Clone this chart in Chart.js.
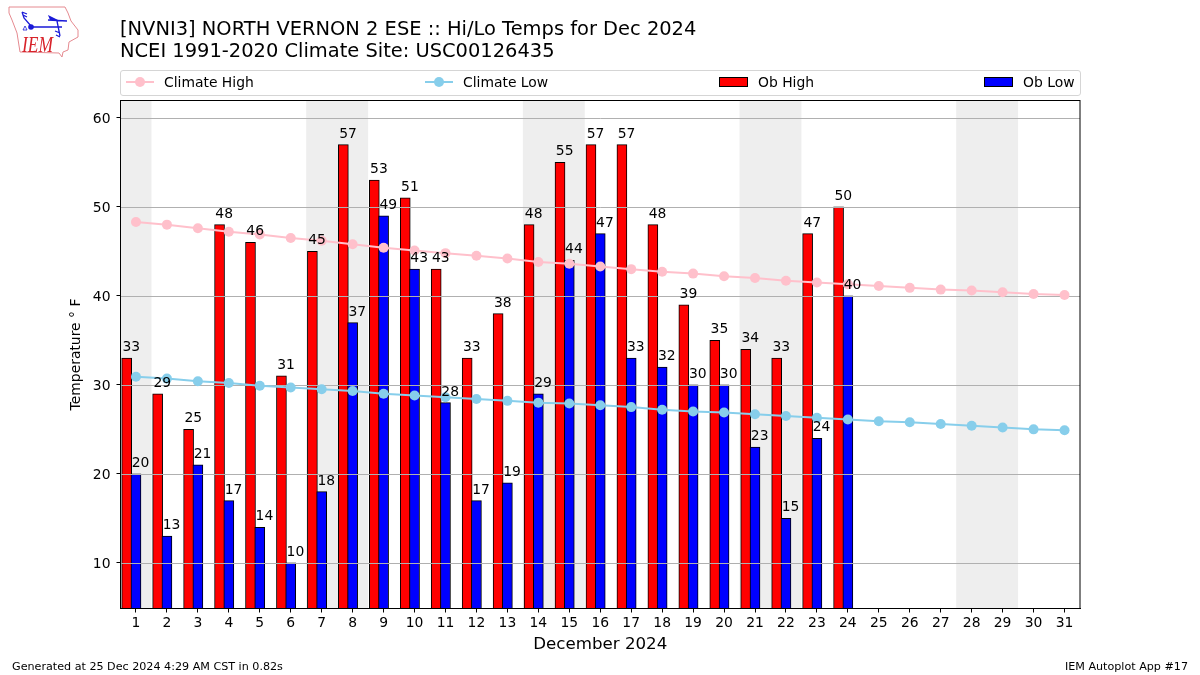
<!DOCTYPE html>
<html>
<head>
<meta charset="utf-8">
<title>Hi/Lo Temps</title>
<script src="https://cdn.jsdelivr.net/npm/chart.js@4"></script>
<style>
  html, body { margin: 0; padding: 0; background: #fff; }
  body { width: 1200px; height: 675px; position: relative; overflow: hidden; font-family: "DejaVu Sans", sans-serif; color: #000; }
  canvas { position: absolute; left: 0; top: 0; }
  .title { position: absolute; left: 120px; top: 18px; font-size: 19.44px; line-height: 22px; white-space: nowrap; }
  .legend { position: absolute; left: 120px; top: 70px; width: 959px; height: 24px; border: 1px solid #d5d5d5; border-radius: 3px; }
  .legend span { position: absolute; top: 3px; font-size: 13.9px; line-height: 16px; white-space: nowrap; }
  .legend i { position: absolute; display: block; }
  .foot { position: absolute; top: 660px; font-size: 11.15px; line-height: 13px; white-space: nowrap; }
  .logo { position: absolute; left: 0; top: 0; }
</style>
</head>
<body>
<canvas id="chart" width="1200" height="675"></canvas>

<svg class="logo" width="90" height="65" viewBox="0 0 90 65">
  <path d="M9 7 L65 7 L68 13 L71 21 L78 30 L78 37 L69 42 L68 50 L63 52 L62 57 L59 53 L20 52 L17 33 L12 20 L9 13 Z" fill="none" stroke="#e58a90" stroke-width="1"/>
  <path d="M31 27 L62 27 M22 12 L24 18 L31 26 M22 12 L27 14 M23 15 L27 17 M48 20 L67 21 M57 21 L60 36 M55 31 L60 33 M56 35 L60 37" fill="none" stroke="#1a1ad8" stroke-width="1.3"/>
  <circle cx="31" cy="27" r="2.8" fill="#1a1ad8"/>
  <path d="M48 15 L58 20 L50 20 Z" fill="#1a1ad8"/>
  <path d="M23 30 L25 26 L27 30 Z" fill="none" stroke="#1a1ad8" stroke-width="0.8"/>
  <text x="22" y="52" font-family="Liberation Serif" font-style="italic" font-size="23" fill="#d8232a" textLength="31" lengthAdjust="spacingAndGlyphs">IEM</text>
</svg>

<div class="title">[NVNI3] NORTH VERNON 2 ESE :: Hi/Lo Temps for Dec 2024<br>NCEI 1991-2020 Climate Site: USC00126435</div>

<div class="legend">
  <i style="left:5px;top:10px;width:28px;height:2px;background:#ffc0cb"></i>
  <i style="left:14px;top:6px;width:10px;height:10px;border-radius:50%;background:#ffc0cb"></i>
  <span style="left:43px">Climate High</span>
  <i style="left:304px;top:10px;width:28px;height:2px;background:#87ceeb"></i>
  <i style="left:313px;top:6px;width:10px;height:10px;border-radius:50%;background:#87ceeb"></i>
  <span style="left:342px">Climate Low</span>
  <i style="left:598px;top:6px;width:27px;height:8px;background:#f00;border:1px solid #000"></i>
  <span style="left:637px">Ob High</span>
  <i style="left:863px;top:6px;width:27px;height:8px;background:#00f;border:1px solid #000"></i>
  <span style="left:902px">Ob Low</span>
</div>

<div class="foot" style="left:12px">Generated at 25 Dec 2024 4:29 AM CST in 0.82s</div>
<div class="foot" style="right:12px">IEM Autoplot App #17</div>

<script>
const days = [1,2,3,4,5,6,7,8,9,10,11,12,13,14,15,16,17,18,19,20,21,22,23,24,25,26,27,28,29,30,31];
const obHigh = [33,29,25,48,46,31,45,57,53,51,43,33,38,48,55,57,57,48,39,35,34,33,47,50];
const obLow = [20,13,21,17,14,10,18,37,49,43,28,17,19,29,44,47,33,32,30,30,23,15,24,40];
const climateHigh = [48.3,48.0,47.6,47.2,46.9,46.5,46.2,45.8,45.4,45.1,44.8,44.5,44.2,43.8,43.6,43.3,43.0,42.7,42.5,42.2,42.0,41.7,41.5,41.3,41.1,40.9,40.7,40.6,40.4,40.2,40.1];
const climateLow = [30.9,30.7,30.4,30.2,29.9,29.7,29.5,29.3,29.0,28.8,28.6,28.4,28.2,28.0,27.9,27.7,27.5,27.2,27.0,26.9,26.7,26.5,26.3,26.1,25.9,25.8,25.6,25.4,25.2,25.0,24.9];
const weekendBands = [[0.5,1.5],[6.5,8.5],[13.5,15.5],[20.5,22.5],[27.5,29.5]];
const yTicks = [10,20,30,40,50,60];

const FONT = "'DejaVu Sans', sans-serif";
Chart.defaults.font.family = FONT;
Chart.defaults.color = "#000";

// weekend shading at the very back
const bandsPlugin = {
  id: "bands",
  beforeDraw(chart) {
    const { ctx, chartArea, scales } = chart;
    ctx.save();
    ctx.fillStyle = "#eeeeee";
    weekendBands.forEach(([a, b]) => {
      const x0 = scales.x.getPixelForValue(a);
      const x1 = scales.x.getPixelForValue(b);
      ctx.fillRect(x0, chartArea.top, x1 - x0, chartArea.bottom - chartArea.top);
    });
    ctx.restore();
  }
};

// grid runs over the bars but under the lines, so draw it just before the first line
const gridPlugin = {
  id: "midGrid",
  beforeDatasetDraw(chart, args) {
    if (args.index !== 1) return;
    const { ctx, chartArea, scales } = chart;
    ctx.save();
    ctx.strokeStyle = "#b0b0b0";
    ctx.lineWidth = 1;
    yTicks.forEach((v) => {
      const y = Math.floor(scales.y.getPixelForValue(v) + 0.3) + 0.5;
      ctx.beginPath();
      ctx.moveTo(chartArea.left, y);
      ctx.lineTo(chartArea.right, y);
      ctx.stroke();
    });
    ctx.restore();
  }
};

const barLabels = {
  id: "barLabels",
  afterDraw(chart) {
    const { ctx, scales, chartArea } = chart;
    ctx.save();
    ctx.strokeStyle = "#000";
    ctx.lineWidth = 1;
    ctx.strokeRect(chartArea.left, chartArea.top, chartArea.right - chartArea.left, chartArea.bottom - chartArea.top);
    ctx.font = "13.9px " + FONT;
    ctx.fillStyle = "#000";
    ctx.textAlign = "center";
    ctx.textBaseline = "alphabetic";
    obHigh.forEach((v, i) => {
      ctx.fillText(v, scales.x.getPixelForValue(days[i] - 0.15), scales.y.getPixelForValue(v) - 7);
    });
    obLow.forEach((v, i) => {
      ctx.fillText(v, scales.x.getPixelForValue(days[i] + 0.15), scales.y.getPixelForValue(v) - 7);
    });
    ctx.restore();
  }
};

new Chart(document.getElementById("chart"), {
  type: "bar",
  data: {
    datasets: [
      {
        type: "line",
        label: "Climate High",
        data: days.map((d, i) => ({ x: d, y: climateHigh[i] })),
        borderColor: "#ffc0cb",
        backgroundColor: "#ffc0cb",
        borderWidth: 2,
        pointRadius: 5,
        pointBorderWidth: 0,
        order: 1
      },
      {
        type: "line",
        label: "Climate Low",
        data: days.map((d, i) => ({ x: d, y: climateLow[i] })),
        borderColor: "#87ceeb",
        backgroundColor: "#87ceeb",
        borderWidth: 2,
        pointRadius: 5,
        pointBorderWidth: 0,
        order: 1
      },
      {
        label: "Ob High",
        data: obHigh.map((v, i) => ({ x: days[i] - 0.3, y: v })),
        backgroundColor: "#ff0000",
        borderColor: "#000",
        borderWidth: 1,
        barThickness: 10,
        grouped: false,
        order: 3
      },
      {
        label: "Ob Low",
        data: obLow.map((v, i) => ({ x: days[i], y: v })),
        backgroundColor: "#0000ff",
        borderColor: "#000",
        borderWidth: 1,
        barThickness: 10,
        grouped: false,
        order: 2
      }
    ]
  },
  options: {
    responsive: false,
    animation: false,
    layout: { padding: { left: 68, right: 120, top: 100.5, bottom: 20.5 } },
    plugins: { legend: { display: false }, tooltip: { enabled: false } },
    scales: {
      x: {
        type: "linear",
        offset: false,
        min: 0.5,
        max: 31.5,
        afterBuildTicks(axis) { axis.ticks = days.map((d) => ({ value: d })); },
        afterFit(axis) { axis.height = 46; },
        ticks: { font: { size: 13.9 }, maxRotation: 0, autoSkip: false, padding: 3, callback: (v) => v },
        grid: { offset: false, drawOnChartArea: false, tickLength: 4, tickColor: "#000" },
        border: { color: "#000" },
        title: { display: true, text: "December 2024", font: { size: 16.67 }, padding: { top: 5, bottom: 0 } }
      },
      y: {
        min: 4.87,
        max: 61.95,
        afterBuildTicks(axis) { axis.ticks = yTicks.map((v) => ({ value: v })); },
        afterFit(axis) { axis.width = 52.5; },
        ticks: { font: { size: 13.9 }, padding: 6, labelOffset: 1.2 },
        grid: { drawOnChartArea: false, tickLength: 4, tickColor: "#000" },
        border: { color: "#000" },
        title: { display: true, text: "Temperature ° F", font: { size: 13.9 }, padding: { top: 0, bottom: 0 } }
      }
    }
  },
  plugins: [bandsPlugin, gridPlugin, barLabels]
});
</script>
</body>
</html>
